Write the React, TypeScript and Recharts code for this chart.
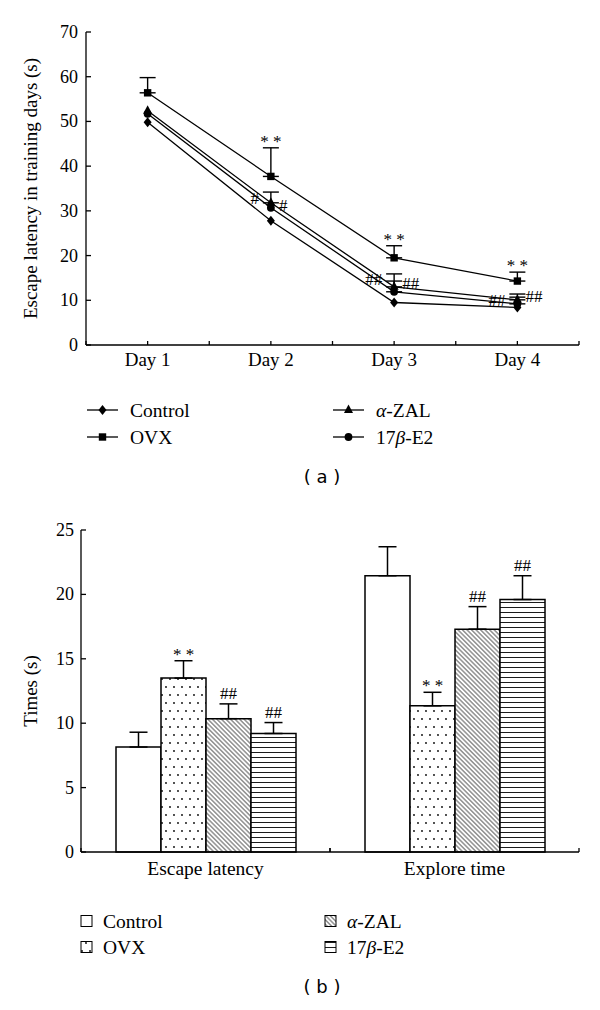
import React from 'react'
import { ComposedChart, BarChart, Line, Bar, Scatter, XAxis, YAxis, ErrorBar, LabelList } from 'recharts'

const SERIF = '"Liberation Serif", "Times New Roman", serif'
const SANS = '"DejaVu Sans", sans-serif'

// groups
const groupKeys = ['control', 'ovx', 'zal', 'e2']
const groupNames = ['Control', 'OVX', 'α-ZAL', '17β-E2']

// (a) escape latency over training days
const days = [1, 2, 3, 4]
const dayLabels = ['Day 1', 'Day 2', 'Day 3', 'Day 4']
const controlLatency = [49.8, 27.8, 9.5, 8.4]
const ovxLatency = [56.4, 37.7, 19.5, 14.3]
const zalLatency = [52.4, 31.8, 13.0, 10.1]
const e2Latency = [51.7, 30.7, 11.9, 9.2]
const controlLatencyErr = [0, 0, 0, 0]
const ovxLatencyErr = [3.4, 6.4, 2.7, 2.0]
const zalLatencyErr = [0, 2.4, 2.9, 1.3]
const e2LatencyErr = [0, 0, 2.4, 1.5]
const ovxLatencyMarks = ['', '**', '**', '**']
const hashMarks = [
  { day: 2, v: 32.9, text: '#', side: 'left' },
  { day: 2, v: 31.3, text: '#', side: 'right' },
  { day: 3, v: 14.8, text: '##', side: 'left' },
  { day: 3, v: 13.9, text: '##', side: 'right' },
  { day: 4, v: 10.1, text: '##', side: 'left' },
  { day: 4, v: 11.0, text: '##', side: 'right' },
]
const latencyTicks = [0, 10, 20, 30, 40, 50, 60, 70]

// (b) probe trial
const tests = ['Escape latency', 'Explore time']
const controlTimes = [8.15, 21.45]
const ovxTimes = [13.5, 11.35]
const zalTimes = [10.35, 17.3]
const e2Times = [9.2, 19.6]
const controlTimesErr = [1.15, 2.25]
const ovxTimesErr = [1.35, 1.05]
const zalTimesErr = [1.15, 1.75]
const e2TimesErr = [0.85, 1.85]
const controlTimesMarks = ['', '']
const ovxTimesMarks = ['**', '**']
const zalTimesMarks = ['##', '##']
const e2TimesMarks = ['##', '##']
const timesTicks = [0, 5, 10, 15, 20, 25]

const err = (e: number) => (e > 0 ? [0, e] : null)

const latencyRows = days.map((day, i) => ({
  day,
  control: controlLatency[i],
  ovx: ovxLatency[i],
  zal: zalLatency[i],
  e2: e2Latency[i],
  controlErr: err(controlLatencyErr[i]),
  ovxErr: err(ovxLatencyErr[i]),
  zalErr: err(zalLatencyErr[i]),
  e2Err: err(e2LatencyErr[i]),
}))

const starPoints = days
  .map((day, i) => ({ day, v: ovxLatency[i] + ovxLatencyErr[i], text: ovxLatencyMarks[i] }))
  .filter((p) => p.text)

const timesRows = tests.map((test, i) => ({
  test,
  control: controlTimes[i],
  ovx: ovxTimes[i],
  zal: zalTimes[i],
  e2: e2Times[i],
  controlErr: [0, controlTimesErr[i]],
  ovxErr: [0, ovxTimesErr[i]],
  zalErr: [0, zalTimesErr[i]],
  e2Err: [0, e2TimesErr[i]],
}))

const timesValues: Record<string, number[]> = { control: controlTimes, ovx: ovxTimes, zal: zalTimes, e2: e2Times }
const timesErrs: Record<string, number[]> = { control: controlTimesErr, ovx: ovxTimesErr, zal: zalTimesErr, e2: e2TimesErr }
const timesMarks: Record<string, string[]> = { control: controlTimesMarks, ovx: ovxTimesMarks, zal: zalTimesMarks, e2: e2TimesMarks }

const markerKinds = ['diamond', 'square', 'triangle', 'circle']
const barFills = (id: string) => ['#fff', `url(#${id}-dots)`, `url(#${id}-diag)`, `url(#${id}-horiz)`]

function Marker({ kind, cx, cy }: { kind: string; cx: number; cy: number }) {
  if (cx == null || cy == null) return null
  if (kind === 'diamond')
    return <polygon points={`${cx},${cy - 5} ${cx + 4},${cy} ${cx},${cy + 5} ${cx - 4},${cy}`} fill="#000" />
  if (kind === 'square') return <rect x={cx - 3.7} y={cy - 3.7} width={7.4} height={7.4} fill="#000" />
  if (kind === 'triangle')
    return <polygon points={`${cx},${cy - 5.5} ${cx + 4.5},${cy + 3} ${cx - 4.5},${cy + 3}`} fill="#000" />
  return <circle cx={cx} cy={cy} r={3.9} fill="#000" />
}

function Name({ text }: { text: string }) {
  const parts = text.split(/([α-ω])/)
  return (
    <>
      {parts.map((p, i) =>
        /[α-ω]/.test(p) ? (
          <tspan key={i} fontStyle="italic">{p}</tspan>
        ) : (
          <tspan key={i}>{p}</tspan>
        )
      )}
    </>
  )
}

function Patterns({ id }: { id: string }) {
  return (
    <defs>
      <pattern id={`${id}-dots`} width={8} height={16} patternUnits="userSpaceOnUse">
        <rect width={8} height={16} fill="#fff" />
        <circle cx={2} cy={3} r={0.9} fill="#000" />
        <circle cx={6} cy={11} r={0.9} fill="#000" />
      </pattern>
      <pattern id={`${id}-diag`} width={3.2} height={3.2} patternUnits="userSpaceOnUse" patternTransform="rotate(-45)">
        <rect width={3.2} height={3.2} fill="#fff" />
        <line x1={1.6} y1={0} x2={1.6} y2={3.2} stroke="#000" strokeWidth={0.65} />
      </pattern>
      <pattern id={`${id}-horiz`} width={6} height={5} patternUnits="userSpaceOnUse">
        <rect width={6} height={5} fill="#fff" />
        <line x1={0} y1={2.5} x2={6} y2={2.5} stroke="#000" strokeWidth={0.9} />
      </pattern>
    </defs>
  )
}

const makeYTick = (gap: number) => (props: any) => {
  const { x, y, payload } = props
  return (
    <g>
      <line x1={x} x2={x + 5} y1={y} y2={y} stroke="#000" strokeWidth={1.3} />
      <text x={x - gap} y={y + 6} textAnchor="end" fontSize={18} fontFamily={SERIF} fill="#000">
        {payload.value}
      </text>
    </g>
  )
}

function DayTick(props: any) {
  const { x, y, payload } = props
  const i = days.indexOf(payload.value)
  return (
    <g>
      <line x1={x} x2={x} y1={y} y2={y - 4} stroke="#000" strokeWidth={1.3} />
      {i >= 0 && (
        <text x={x} y={y + 21} textAnchor="middle" fontSize={19} fontFamily={SERIF} fill="#000">
          {dayLabels[i]}
        </text>
      )}
    </g>
  )
}

function TestTick(props: any) {
  const { x, y, payload } = props
  const half = payload.offset ?? 124.5
  return (
    <g>
      <line x1={x - half} x2={x - half} y1={y} y2={y - 4} stroke="#000" strokeWidth={1.3} />
      <line x1={x + half} x2={x + half} y1={y} y2={y - 4} stroke="#000" strokeWidth={1.3} />
      <text x={x} y={y + 23} textAnchor="middle" fontSize={19.5} fontFamily={SERIF} fill="#000">
        {payload.value}
      </text>
    </g>
  )
}

const yLabel = (text: string) => (props: any) => {
  const vb = props.viewBox || { x: 0, y: 0, width: 0, height: 0 }
  const cx = vb.x + 37
  const cy = vb.y + vb.height / 2
  return (
    <text x={cx} y={cy} transform={`rotate(-90 ${cx} ${cy})`} textAnchor="middle" fontSize={19} fontFamily={SERIF} fill="#000">
      {text}
    </text>
  )
}

function StarShape(props: any) {
  const { cx, cy, payload } = props
  return (
    <text x={cx} y={cy - 1} textAnchor="middle" fontSize={17} fontFamily={SERIF} fill="#000">
      {payload.text.split('').join(' ')}
    </text>
  )
}

function HashShape(props: any) {
  const { cx, cy, payload } = props
  const left = payload.side === 'left'
  return (
    <text x={left ? cx - 12 : cx + 8} y={cy + 6} textAnchor={left ? 'end' : 'start'} fontSize={17} fontFamily={SERIF} fill="#000">
      {payload.text}
    </text>
  )
}

const barMark = (key: string) => (props: any) => {
  const { x, y, width, height, index } = props
  const text = timesMarks[key][index]
  if (!text) return null
  const pxPerUnit = height / timesValues[key][index]
  const top = y - timesErrs[key][index] * pxPerUnit
  const star = text.includes('*')
  return (
    <text x={x + width / 2} y={star ? top - 1 : top - 5} textAnchor="middle" fontSize={17} fontFamily={SERIF} fill="#000">
      {star ? text.split('').join(' ') : text}
    </text>
  )
}

function LineLegend() {
  const cols = [87, 333]
  const rows = [20, 47]
  return (
    <svg width={600} height={110} style={{ position: 'absolute', left: 0, top: 390 }}>
      {groupNames.map((name, i) => {
        const x = cols[Math.floor(i / 2)]
        const y = rows[i % 2]
        return (
          <g key={name}>
            <line x1={x} x2={x + 31} y1={y} y2={y} stroke="#000" strokeWidth={1.3} />
            <Marker kind={markerKinds[i]} cx={x + 15.5} cy={y} />
            <text x={x + 43} y={y + 6.5} fontSize={19.5} fontFamily={SERIF} fill="#000">
              <Name text={name} />
            </text>
          </g>
        )
      })}
      <text x={322} y={93} textAnchor="middle" fontSize={18} fontFamily={SANS} fill="#000">
        ( a )
      </text>
    </svg>
  )
}

function BarLegend() {
  const cols = [81, 325]
  const rows = [21, 47]
  const fills = barFills('leg')
  return (
    <svg width={600} height={110} style={{ position: 'absolute', left: 0, top: 900 }}>
      <Patterns id="leg" />
      {groupNames.map((name, i) => {
        const x = cols[Math.floor(i / 2)]
        const y = rows[i % 2]
        return (
          <g key={name}>
            <rect x={x} y={y - 5.5} width={11} height={11} fill={fills[i]} stroke="#000" strokeWidth={1} />
            <text x={x + 22} y={y + 6.5} fontSize={19.5} fontFamily={SERIF} fill="#000">
              <Name text={name} />
            </text>
          </g>
        )
      })}
      <text x={322} y={93} textAnchor="middle" fontSize={18} fontFamily={SANS} fill="#000">
        ( b )
      </text>
    </svg>
  )
}

export default function App() {
  const fills = barFills('bar')
  return (
    <div style={{ position: 'absolute', left: 0, top: 0, width: 600, height: 1010, background: '#fff' }}>
      <div style={{ position: 'absolute', left: 0, top: 0 }}>
        <ComposedChart width={600} height={380} data={latencyRows} margin={{ top: 32, right: 21, bottom: 5, left: 0 }}>
          <XAxis
            dataKey="day"
            type="number"
            domain={[0.5, 4.5]}
            ticks={[0.5, 1, 1.5, 2, 2.5, 3, 3.5, 4, 4.5]}
            height={30}
            tickSize={0}
            tickMargin={0}
            tickLine={false}
            axisLine={{ stroke: '#000', strokeWidth: 1.3 }}
            tick={DayTick}
            interval={0}
          />
          <YAxis
            type="number"
            domain={[0, 70]}
            ticks={latencyTicks}
            width={86}
            tickSize={0}
            tickMargin={0}
            tickLine={false}
            axisLine={{ stroke: '#000', strokeWidth: 1.3 }}
            tick={makeYTick(8)}
            interval={0}
            label={yLabel('Escape latency in training days (s)')}
          />
          {groupKeys.map((key, i) => (
            <Line
              key={key}
              type="linear"
              dataKey={key}
              stroke="#000"
              strokeWidth={1.3}
              isAnimationActive={false}
              activeDot={false}
              dot={(p: any) => <Marker key={`${key}-${p.index}`} kind={markerKinds[i]} cx={p.cx} cy={p.cy} />}
            >
              <ErrorBar dataKey={`${key}Err`} width={8} stroke="#000" strokeWidth={1.4} direction="y" />
            </Line>
          ))}
          <Scatter data={starPoints} dataKey="v" isAnimationActive={false} shape={StarShape} />
          <Scatter data={hashMarks} dataKey="v" isAnimationActive={false} shape={HashShape} />
        </ComposedChart>
      </div>
      <LineLegend />
      <div style={{ position: 'absolute', left: 0, top: 500 }}>
        <BarChart width={600} height={400} data={timesRows} margin={{ top: 30, right: 21, bottom: 18, left: 0 }} barGap={0}>
          <Patterns id="bar" />
          <XAxis
            dataKey="test"
            height={30}
            tickSize={0}
            tickMargin={0}
            tickLine={false}
            axisLine={{ stroke: '#000', strokeWidth: 1.3 }}
            tick={TestTick}
            interval={0}
          />
          <YAxis
            type="number"
            domain={[0, 25]}
            ticks={timesTicks}
            width={81}
            tickSize={0}
            tickMargin={0}
            tickLine={false}
            axisLine={{ stroke: '#000', strokeWidth: 1.3 }}
            tick={makeYTick(7)}
            interval={0}
            label={yLabel('Times (s)')}
          />
          {groupKeys.map((key, i) => (
            <Bar key={key} dataKey={key} barSize={45} fill={fills[i]} stroke="#000" strokeWidth={1.5} isAnimationActive={false}>
              <ErrorBar dataKey={`${key}Err`} width={9} stroke="#000" strokeWidth={1.5} direction="y" />
              <LabelList dataKey={key} content={barMark(key)} />
            </Bar>
          ))}
        </BarChart>
      </div>
      <BarLegend />
    </div>
  )
}
